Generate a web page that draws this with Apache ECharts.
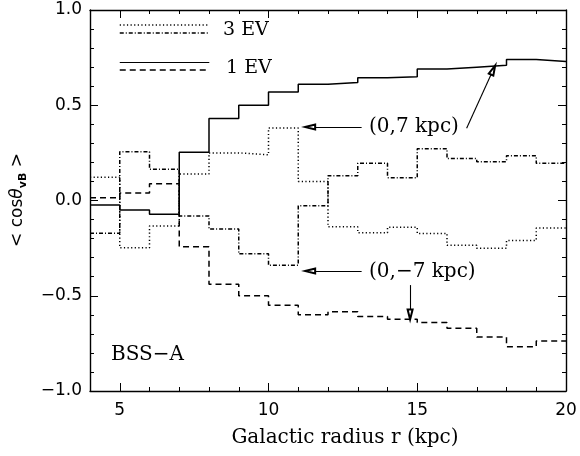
<!DOCTYPE html>
<html>
<head>
<meta charset="utf-8">
<script src="https://cdn.jsdelivr.net/npm/echarts@6/dist/echarts.min.js"></script>
<style>html,body{margin:0;padding:0;background:#fff}#c{width:580px;height:456px}</style>
</head>
<body>
<div id="c"></div>
<script>
// Bin edges (Galactic radius, kpc)
const binEdges = [4,5,6,7,8,9,10,11,12,13,14,15,16,17,18,19,20];
// <cos theta_vB> per bin
const ev1_p7  = [-0.024,-0.05,-0.072,0.253,0.43,0.50,0.57,0.61,0.62,0.645,0.65,0.69,0.70,0.71,0.74,0.73];     // 1 EV, (0,7 kpc) solid
const ev1_m7  = [0.015,0.04,0.088,-0.243,-0.44,-0.50,-0.55,-0.60,-0.584,-0.609,-0.623,-0.64,-0.671,-0.717,-0.768,-0.738]; // 1 EV, (0,-7 kpc) dashed
const ev3_p7  = [0.122,-0.248,-0.134,0.139,0.25,0.24,0.38,0.10,-0.138,-0.169,-0.141,-0.173,-0.235,-0.25,-0.21,-0.145]; // 3 EV, (0,7 kpc) dotted
const ev3_m7  = [-0.172,0.256,0.164,-0.081,-0.15,-0.28,-0.34,-0.027,0.13,0.195,0.12,0.272,0.22,0.204,0.235,0.195];  // 3 EV, (0,-7 kpc) dash-dot
const xTickLabels = [5,10,15,20];

const stepData = vals => {
  const d = vals.map((v,i)=>[binEdges[i], v]);
  d.push([binEdges[binEdges.length-1], vals[vals.length-1]]);
  return d;
};

const DOT = [1.2,2.4], DASHDOT = [4,2,1,2], DASH = [6,4];
const LW = 1.5;
const SANS = 'DejaVu Sans', SERIF = 'DejaVu Serif';

function legendLine(y){ return [{coord:[5.0,y]},{coord:[8.01,y]}]; }

const chart = echarts.init(document.getElementById('c'), null, {renderer:'canvas'});

const lineOn = {show:true, onZero:false, lineStyle:{color:'#000', width:1.4}};
const lineOff = {show:false, onZero:false};
const tickStyle = {color:'#000', width:1};

chart.setOption({
  backgroundColor:'#fff',
  animation:false,
  grid:{left:90, right:14, top:10, bottom:65},
  xAxis:[
    {type:'value', position:'bottom', min:4, max:20, interval:1, splitLine:{show:false}, axisLine:lineOn,
      axisTick:{inside:true, length:4, lineStyle:tickStyle},
      axisLabel:{customValues:xTickLabels, color:'#000', fontFamily:SANS, fontSize:17, margin:11}},
    {type:'value', position:'bottom', min:4, max:20, interval:1, splitLine:{show:false}, axisLine:lineOff,
      axisTick:{inside:true, length:8, customValues:xTickLabels, lineStyle:tickStyle},
      axisLabel:{show:false}},
    {type:'value', position:'top', min:4, max:20, interval:1, splitLine:{show:false}, axisLine:lineOn,
      axisTick:{inside:true, length:4, lineStyle:tickStyle},
      axisLabel:{show:false}},
    {type:'value', position:'top', min:4, max:20, interval:1, splitLine:{show:false}, axisLine:lineOff,
      axisTick:{inside:true, length:8, customValues:xTickLabels, lineStyle:tickStyle},
      axisLabel:{show:false}}
  ],
  yAxis:[
    {type:'value', position:'left', min:-1, max:1, interval:0.5, splitLine:{show:false}, axisLine:lineOn,
      axisTick:{inside:true, length:8, lineStyle:tickStyle},
      minorTick:{show:true, splitNumber:5, length:4, lineStyle:tickStyle},
      axisLabel:{color:'#000', fontFamily:SANS, fontSize:17, margin:8,
        formatter:v=>v.toFixed(1).replace('-','\u2212')}},
    {type:'value', position:'right', min:-1, max:1, interval:0.5, splitLine:{show:false}, axisLine:lineOn,
      axisTick:{inside:true, length:8, lineStyle:tickStyle},
      minorTick:{show:true, splitNumber:5, length:4, lineStyle:tickStyle},
      axisLabel:{show:false}}
  ],
  series:[
    {name:'1 EV (0,7 kpc)', type:'line', step:'end', symbol:'none', data:stepData(ev1_p7),
     lineStyle:{color:'#000', width:LW, type:'solid'}, z:3,
     markLine:{silent:true, animation:false, symbol:['none','none'], label:{show:false},
       lineStyle:{color:'#000', width:1.1, type:'solid'},
       data:[
         legendLine(0.725).map(p=>Object.assign(p,{symbol:'none'})),
         [{coord:[13.13,0.386], symbol:'none'},{coord:[11.40,0.386], symbol:'emptyTriangle', symbolSize:[5,10]}],
         [{coord:[16.66,0.379], symbol:'none'},{coord:[17.55,0.685], symbol:'emptyTriangle', symbolSize:[5,10]}],
         [{coord:[13.13,-0.37], symbol:'none'},{coord:[11.40,-0.37], symbol:'emptyTriangle', symbolSize:[5,10]}],
         [{coord:[14.76,-0.444], symbol:'none'},{coord:[14.76,-0.598], symbol:'emptyTriangle', symbolSize:[5,10]}]
       ]}},
    {name:'1 EV (0,-7 kpc)', type:'line', step:'end', symbol:'none', data:stepData(ev1_m7),
     lineStyle:{color:'#000', width:LW, type:DASH},
     markLine:{silent:true, symbol:['none','none'], label:{show:false},
       lineStyle:{color:'#000', width:LW, type:DASH}, data:[legendLine(0.685)]}},
    {name:'3 EV (0,7 kpc)', type:'line', step:'end', symbol:'none', data:stepData(ev3_p7),
     lineStyle:{color:'#000', width:LW, type:DOT},
     markLine:{silent:true, symbol:['none','none'], label:{show:false},
       lineStyle:{color:'#000', width:LW, type:DOT}, data:[legendLine(0.925)]}},
    {name:'3 EV (0,-7 kpc)', type:'line', step:'end', symbol:'none', data:stepData(ev3_m7),
     lineStyle:{color:'#000', width:LW, type:DASHDOT},
     markLine:{silent:true, symbol:['none','none'], label:{show:false},
       lineStyle:{color:'#000', width:LW, type:DASHDOT}, data:[legendLine(0.883)]}}
  ],
  graphic:[
    {type:'text', x:223, y:30, style:{text:'3 EV', fontFamily:SERIF, fontSize:19, fill:'#000', align:'left', verticalAlign:'middle'}},
    {type:'text', x:226, y:68, style:{text:'1 EV', fontFamily:SERIF, fontSize:19, fill:'#000', align:'left', verticalAlign:'middle'}},
    {type:'text', x:369, y:127, style:{text:'(0,7 kpc)', fontFamily:SERIF, fontSize:20, fill:'#000', align:'left', verticalAlign:'middle'}},
    {type:'text', x:369, y:272, style:{text:'(0,\u22127 kpc)', fontFamily:SERIF, fontSize:20, fill:'#000', align:'left', verticalAlign:'middle'}},
    {type:'text', x:111, y:355, style:{text:'BSS\u2212A', fontFamily:SERIF, fontSize:20, fill:'#000', align:'left', verticalAlign:'middle'}},
    {type:'text', x:345, y:438, style:{text:'Galactic radius r (kpc)', fontFamily:SERIF, fontSize:20, fill:'#000', align:'center', verticalAlign:'middle'}},
    {type:'text', x:18, y:200, rotation:Math.PI/2, style:{
      text:'{n|< cos}{t|θ}{s|vB}{n| >}', align:'center', verticalAlign:'middle', fill:'#000',
      rich:{
        n:{fontFamily:SANS, fontSize:17, lineHeight:22, verticalAlign:'middle'},
        t:{fontFamily:SANS, fontStyle:'italic', fontSize:17, lineHeight:22, verticalAlign:'middle'},
        s:{fontFamily:SANS, fontWeight:'bold', fontSize:11, lineHeight:10, verticalAlign:'bottom'}
      }}}
  ]
});
</script>
</body>
</html>
